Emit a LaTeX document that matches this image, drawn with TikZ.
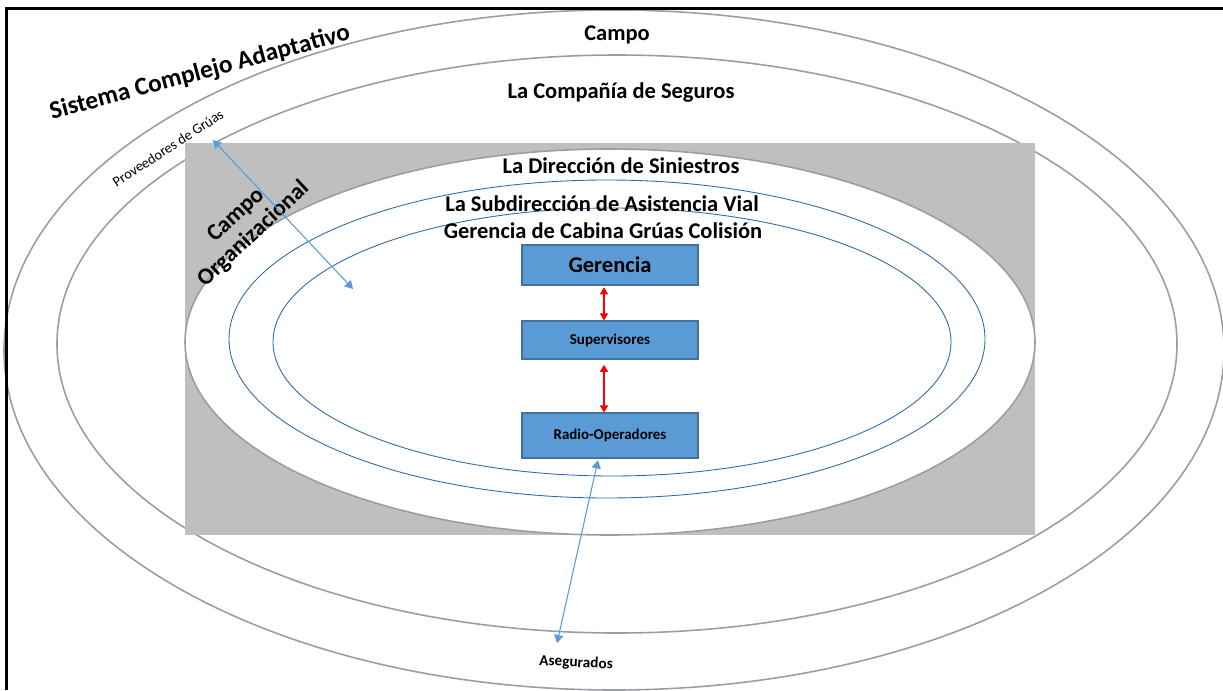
\documentclass[tikz,border=0pt]{standalone}
\usepackage{fontspec}
\setmainfont{Carlito}
\usetikzlibrary{arrows.meta}
\definecolor{cajaazul}{HTML}{5B9BD5}
\definecolor{bordeazul}{HTML}{41719C}
\definecolor{lineaazul}{HTML}{2F6BA8}
\definecolor{grisfondo}{HTML}{BFBFBF}
\definecolor{grisanillo}{HTML}{9A9DA3}
\tikzset{
  anillo/.style={draw=grisanillo, line width=0.9pt, fill=white},
  capa/.style={draw=lineaazul, line width=0.5pt},
  caja/.style={draw=bordeazul, fill=cajaazul, line width=0.6pt, minimum width=3.52cm, inner sep=0pt, font=\bfseries},
  titulo/.style={anchor=base, font=\fontsize{12.8}{15}\selectfont\bfseries},
  flecharoja/.style={red, line width=0.6pt, {Triangle[width=4.6pt,length=4pt]}-{Triangle[width=4.6pt,length=4pt]}},
  flechaazul/.style={draw=cajaazul, line width=0.6pt, {Triangle[width=5.2pt,length=4.6pt]}-{Triangle[width=5.2pt,length=4.6pt]}}
}
\begin{document}
\begin{tikzpicture}[x=0.02cm, y=-0.02cm]
            \useasboundingbox (0,0) rectangle (1223,690);
            \draw[anillo] (614,350) ellipse [x radius=610, y radius=340];
            \draw[anillo] (617,344) ellipse [x radius=560, y radius=289];
            \fill[grisfondo] (185,143) rectangle (1035,535);
            \draw[anillo] (610,342) ellipse [x radius=425, y radius=193];
            \draw[capa] (607,339) ellipse [x radius=378, y radius=159];
            \draw[capa] (612,342) ellipse [x radius=339, y radius=134];
            \draw[line width=1.7pt] (6.5,690) -- (6.5,8.5) -- (1223,8.5);
            \node[titulo] (campo) at (617,40) {Campo};
            \node[titulo] (compania) at (621,98) {La Compañía de Seguros};
            \node[titulo] (direccion) at (621,173) {La Dirección de Siniestros};
            \node[titulo] (subdireccion) at (602,211) {La Subdirección de Asistencia Vial};
            \node[titulo] (cabina) at (603,238) {Gerencia de Cabina Grúas Colisión};
            \node[font=\fontsize{14.4}{17}\selectfont\bfseries, rotate=15] (sistema) at (200,73) {Sistema Complejo Adaptativo};
            \node[font=\fontsize{8.2}{10}\selectfont, rotate=33] (proveedores) at (168,148) {Proveedores de Grúas};
            \node[font=\fontsize{13.3}{14.7}\selectfont\bfseries, align=center, rotate=43] (campoorg) at (245,225) {Campo\\Organizacional};
            \node[font=\fontsize{8.7}{10}\selectfont\bfseries, rotate=-3] (asegurados) at (576,663) {Asegurados};
            \node[caja, minimum height=0.8cm, font=\fontsize{12.8}{15}\selectfont\bfseries] (gerencia) at (610,265) {Gerencia};
            \node[caja, minimum height=0.76cm, font=\fontsize{8.6}{10}\selectfont\bfseries] (supervisores) at (610,340) {Supervisores};
            \node[caja, minimum height=0.9cm, font=\fontsize{8.5}{10}\selectfont\bfseries] (radio) at (610,435.5) {Radio-Operadores};
            \coordinate (prov1) at (213,140);
            \coordinate (prov2) at (353,289);
            \coordinate (aseg1) at (557,643);
            \draw[flecharoja] ([xshift=-0.12cm, yshift=-1pt]gerencia.south) -- ([xshift=-0.12cm]supervisores.north);
            \draw[flecharoja] ([xshift=-0.12cm, yshift=-3pt]supervisores.south) -- ([xshift=-0.12cm]radio.north);
            \draw[flechaazul] (prov1) -- (prov2);
            \draw[flechaazul] ([xshift=-0.24cm, yshift=-1pt]radio.south) -- (aseg1);
        \end{tikzpicture}
\end{document}
